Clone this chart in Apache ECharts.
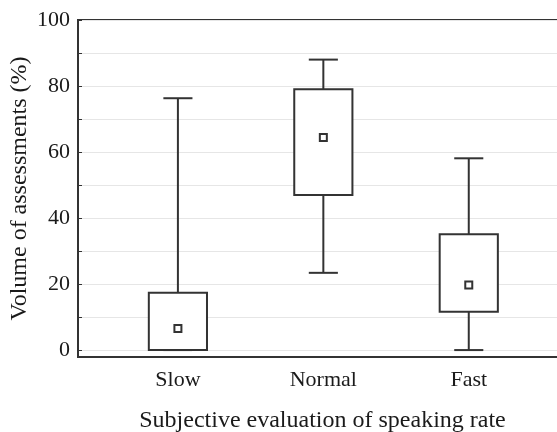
<!DOCTYPE html>
<html>
<head>
<meta charset="utf-8">
<script src="https://cdn.jsdelivr.net/npm/echarts@6/dist/echarts.min.js"></script>
<style>
  html, body { margin: 0; padding: 0; background: #fff; }
  #chart { width: 557px; height: 432px; }
</style>
</head>
<body>
<div id="chart"></div>
<script>
// speaking rate categories and box stats (percent)
const categories = ['Slow', 'Normal', 'Fast']
const whiskerLow = [0, 23.4, 0]
const boxLow = [0, 47.0, 11.6]
const medians = [6.5, 64.4, 19.7]
const boxHigh = [17.4, 79.0, 35.1]
const whiskerHigh = [76.3, 88.0, 58.1]
const yLabelTicks = [0, 20, 40, 60, 80, 100]
const yMinorTicks = [0, 10, 20, 30, 40, 50, 60, 70, 80, 90, 100]

const font = "'Liberation Serif', 'DejaVu Serif', serif"
const ink = '#333'
const textInk = '#1a1a1a'

const seriesData = categories.map((c, i) => [i + 1, whiskerLow[i], boxLow[i], medians[i], boxHigh[i], whiskerHigh[i]])

function renderBox (params, api) {
    const x = api.value(0)
    const pLow = api.coord([x, api.value(1)])
    const pBoxLow = api.coord([x, api.value(2)])
    const pMed = api.coord([x, api.value(3)])
    const pBoxHigh = api.coord([x, api.value(4)])
    const pHigh = api.coord([x, api.value(5)])
    const boxW = api.size([0.4, 0])[0]
    const capW = api.size([0.2, 0])[0]
    const cx = pMed[0]
    const line = { stroke: ink, lineWidth: 2 }
    const children = [
        { type: 'line', shape: { x1: cx, y1: pBoxHigh[1], x2: cx, y2: pHigh[1] }, style: line },
        { type: 'line', shape: { x1: cx - capW / 2, y1: pHigh[1], x2: cx + capW / 2, y2: pHigh[1] }, style: line },
        { type: 'line', shape: { x1: cx, y1: pBoxLow[1], x2: cx, y2: pLow[1] }, style: line },
        { type: 'line', shape: { x1: cx - capW / 2, y1: pLow[1], x2: cx + capW / 2, y2: pLow[1] }, style: line },
        { type: 'rect', shape: { x: cx - boxW / 2, y: pBoxHigh[1], width: boxW, height: pBoxLow[1] - pBoxHigh[1] },
          style: { fill: '#fff', stroke: ink, lineWidth: 2 } },
        { type: 'rect', shape: { x: cx - 3.5, y: pMed[1] - 3.5, width: 7, height: 7 },
          style: { fill: '#fff', stroke: ink, lineWidth: 2 } }
    ]
    return { type: 'group', children }
}

const chart = echarts.init(document.getElementById('chart'))
chart.setOption({
    animation: false,
    backgroundColor: '#fff',
    grid: {
        left: 78, top: 20, right: -30, bottom: 75,
        outerBoundsMode: 'none', containLabel: false,
        show: true, borderColor: ink, borderWidth: 2, backgroundColor: 'transparent'
    },
    xAxis: {
        type: 'value',
        min: 0.313,
        max: 3.813,
        name: 'Subjective evaluation of speaking rate',
        nameLocation: 'middle',
        nameGap: 52,
        nameMoveOverlap: false,
        nameTextStyle: { fontFamily: font, fontSize: 24, color: textInk, padding: [0, 20, 0, 0] },
        axisLine: { show: true, onZero: false, lineStyle: { color: ink, width: 2 } },
        axisTick: { show: false },
        splitLine: { show: false },
        axisLabel: {
            customValues: [1, 2, 3],
            formatter: v => categories[Math.round(v) - 1] || '',
            fontFamily: font, fontSize: 22, color: textInk, margin: 12
        }
    },
    yAxis: {
        type: 'value',
        min: -2.1,
        max: 100,
        name: 'Volume of assessments (%)',
        nameLocation: 'middle',
        nameGap: 46,
        nameMoveOverlap: false,
        nameTextStyle: { fontFamily: font, fontSize: 24, color: textInk },
        axisLine: { show: true, lineStyle: { color: ink, width: 2 } },
        axisTick: { show: true, inside: true, length: 4, customValues: yMinorTicks, lineStyle: { color: ink, width: 1 } },
        splitLine: { show: true, lineStyle: { color: '#e6e6e6', width: 1 } },
        axisLabel: {
            customValues: yLabelTicks,
            fontFamily: font, fontSize: 22, color: textInk, margin: 8
        }
    },
    series: [{
        type: 'custom',
        renderItem: renderBox,
        data: seriesData,
        encode: { x: 0, y: [1, 2, 3, 4, 5] },
        clip: false
    }]
})
</script>
</body>
</html>
